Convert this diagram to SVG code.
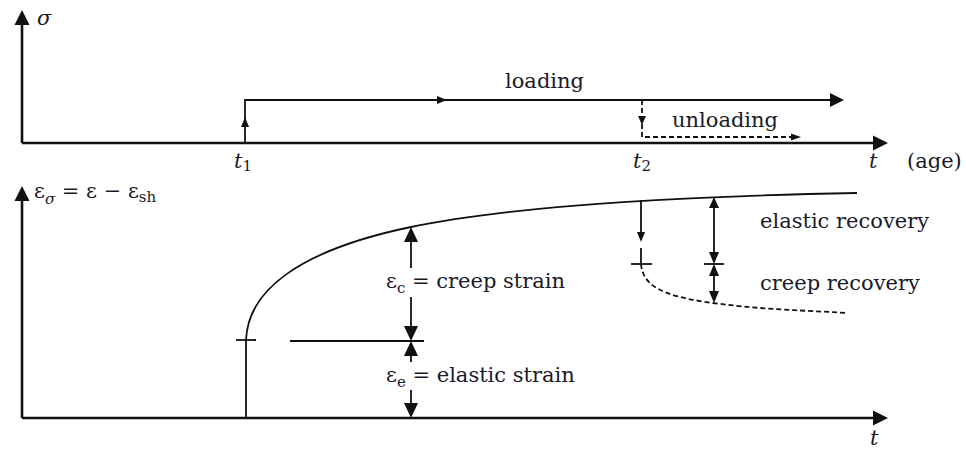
<svg xmlns="http://www.w3.org/2000/svg" width="966" height="451" viewBox="0 0 966 451">
<style>
.ax{stroke:#111;stroke-width:2.6;fill:none}
.ln{stroke:#111;stroke-width:1.8;fill:none}
.dl{stroke:#111;stroke-width:1.8;fill:none;stroke-dasharray:5,3}
.hd{fill:#111;stroke:none}
.tx{font-family:'DejaVu Serif','Liberation Serif',serif;font-size:21px;fill:#1a1a2a}
.it{font-style:italic}
.sub{font-size:15px}
</style>
<rect width="966" height="451" fill="#fff"/>
<g id="top-axes">
<line class="ax" x1="22" y1="143" x2="22" y2="22"/>
<polygon class="hd" points="22,10 14.5,25 29.5,25"/>
<line class="ax" x1="22" y1="143" x2="876" y2="143"/>
<polygon class="hd" points="888,143 873,135.5 873,150.5"/>
<text class="tx it" x="37" y="25" font-size="24">σ</text>
<text class="tx it" x="234" y="168" font-size="23">t<tspan class="sub" dy="3" font-style="normal">1</tspan></text>
<text class="tx it" x="633" y="168" font-size="23">t<tspan class="sub" dy="3" font-style="normal">2</tspan></text>
<text class="tx it" x="869" y="168" font-size="23">t</text>
<text class="tx" x="907" y="168">(age)</text>
</g>
<g id="loading">
<polyline class="ln" points="245,143 245,100 832,100"/>
<polygon class="hd" points="245,117 241,127 249,127"/>
<polygon class="hd" points="447,100 437,96 437,104"/>
<polygon class="hd" points="844,100 830,93 830,107"/>
<text class="tx" x="505" y="88">loading</text>
</g>
<g id="unloading">
<polyline class="dl" points="642,100 642,137 792,137"/>
<polygon class="hd" points="642,125 638,116 646,116"/>
<polygon class="hd" points="801,137 791,133.5 791,140.5"/>
<text class="tx" x="672" y="127">unloading</text>
</g>
<g id="bottom-axes">
<line class="ax" x1="22" y1="418" x2="22" y2="198"/>
<polygon class="hd" points="22,186 14.5,201 29.5,201"/>
<line class="ax" x1="22" y1="418" x2="876" y2="418"/>
<polygon class="hd" points="888,418 873,410.5 873,425.5"/>
<text class="tx" x="34" y="198" font-size="23">ε<tspan class="sub it" dy="6">σ</tspan><tspan dy="-6"> = ε − ε</tspan><tspan class="sub" dy="4">sh</tspan></text>
<text class="tx it" x="870" y="445" font-size="23">t</text>
</g>
<g id="creep-curve">
<line class="ln" x1="246" y1="418" x2="246" y2="340"/>
<line class="ln" x1="236" y1="340" x2="256" y2="340"/>
<path class="ln" d="M246,340 C248,290 300,250 411,227 S700,196 857,193"/>
<line class="ln" x1="290" y1="341" x2="424" y2="341"/>
</g>
<g id="creep-strain">
<line class="ln" x1="411" y1="240" x2="411" y2="268"/>
<line class="ln" x1="411" y1="297" x2="411" y2="328"/>
<polygon class="hd" points="411,227 404,242 418,242"/>
<polygon class="hd" points="411,341 404,326 418,326"/>
<text class="tx" x="386" y="288">ε<tspan class="sub" dy="5">c</tspan><tspan dy="-5"> = creep strain</tspan></text>
</g>
<g id="elastic-strain">
<line class="ln" x1="411" y1="354" x2="411" y2="362"/>
<line class="ln" x1="411" y1="390" x2="411" y2="405"/>
<polygon class="hd" points="411,341 404,356 418,356"/>
<polygon class="hd" points="411,418 404,403 418,403"/>
<text class="tx" x="386" y="382">ε<tspan class="sub" dy="5">e</tspan><tspan dy="-5"> = elastic strain</tspan></text>
</g>
<g id="recovery">
<line class="ln" x1="641" y1="200" x2="641" y2="233"/>
<polygon class="hd" points="641,242 637,232 645,232"/>
<line class="ln" x1="641" y1="248" x2="641" y2="264"/>
<line class="ln" x1="631" y1="264" x2="652" y2="264"/>
<path class="dl" d="M641,264 C643,285 660,296 713,303 S800,310 847,313"/>
<line class="ln" x1="714" y1="206" x2="714" y2="254"/>
<polygon class="hd" points="714,197 709,208 719,208"/>
<polygon class="hd" points="714,264 709,252 719,252"/>
<line class="ln" x1="704" y1="264" x2="724" y2="264"/>
<line class="ln" x1="714" y1="274" x2="714" y2="293"/>
<polygon class="hd" points="714,264 709,276 719,276"/>
<polygon class="hd" points="714,303 709,291 719,291"/>
<text class="tx" x="760" y="228">elastic recovery</text>
<text class="tx" x="760" y="290">creep recovery</text>
</g>
</svg>
